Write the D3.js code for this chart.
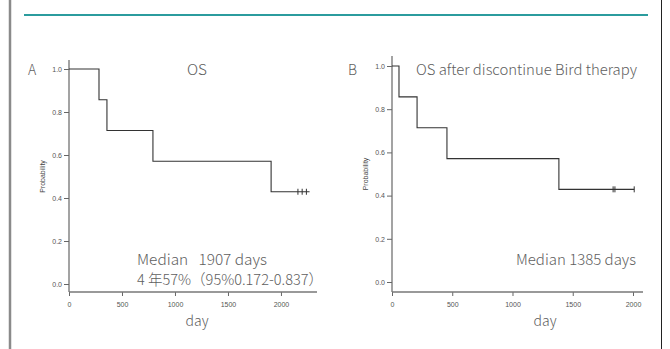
<!DOCTYPE html>
<html>
<head>
<meta charset="utf-8">
<script src="https://cdn.jsdelivr.net/npm/d3@7"></script>
<style>
  html, body { margin: 0; padding: 0; background: #fff; }
  svg { display: block; }
  .tick text { font-family: "Liberation Sans", Arial, sans-serif; font-size: 7px; fill: #555; }
  .tick line { stroke: #666; }
  .lbl { font-family: "Noto Sans CJK JP", "Noto Sans", sans-serif; font-weight: 300; fill: #606060; }
</style>
</head>
<body>
<svg id="chart" width="670" height="349"></svg>
<script>
// Kaplan-Meier data: panel A (overall survival)
const osDays      = [0, 283, 358, 792, 1907, 2270];
const osSurvival  = [1.0, 0.857, 0.714, 0.571, 0.429, 0.429];
const osCensored  = [2160, 2200, 2240];

// Panel B (overall survival after discontinuation)
const discDays     = [0, 58, 208, 456, 1385, 2010];
const discSurvival = [1.0, 0.857, 0.714, 0.571, 0.429, 0.429];
const discCensored = [1835, 1850, 2010];

const xTicks = [0, 500, 1000, 1500, 2000];
const yTicks = [0, 0.2, 0.4, 0.6, 0.8, 1.0];

const svg = d3.select("#chart");

// slide frame
svg.append("line").attr("x1", 10).attr("x2", 10).attr("y1", 0).attr("y2", 349)
  .attr("stroke", "#8a8a8a").attr("stroke-width", 2.5);
svg.append("line").attr("x1", 661.5).attr("x2", 661.5).attr("y1", 0).attr("y2", 349)
  .attr("stroke", "#222").attr("stroke-width", 1);
svg.append("line").attr("x1", 24).attr("x2", 648).attr("y1", 15).attr("y2", 15)
  .attr("stroke", "#2b9c9e").attr("stroke-width", 2);

function panel(cfg) {
  const x = d3.scaleLinear().domain(cfg.xDomain).range(cfg.xRange);
  const y = d3.scaleLinear().domain([0, 1]).range(cfg.yRange);
  const g = svg.append("g");

  // y axis
  const ya = g.append("g").attr("transform", `translate(${cfg.xRange[0]},0)`)
    .call(d3.axisLeft(y).tickValues(yTicks).tickFormat(d3.format(".1f")).tickSize(5).tickPadding(2));
  ya.select(".domain").remove();
  g.append("line").attr("x1", cfg.xRange[0]).attr("x2", cfg.xRange[0])
    .attr("y1", cfg.spineTop).attr("y2", cfg.axisY).attr("stroke", "#666").attr("stroke-width", 1.2);

  // x axis
  const xa = g.append("g").attr("transform", `translate(0,${cfg.axisY})`)
    .call(d3.axisBottom(x).tickValues(xTicks).tickFormat(d3.format("d")).tickSize(4).tickPadding(6));
  xa.select(".domain").remove();
  g.append("line").attr("x1", cfg.xRange[0]).attr("x2", cfg.xRange[1])
    .attr("y1", cfg.axisY).attr("y2", cfg.axisY).attr("stroke", "#777").attr("stroke-width", 1.5);

  // survival step curve
  const pts = cfg.days.map((d, i) => [d, cfg.surv[i]]);
  g.append("path").datum(pts)
    .attr("d", d3.line().x(d => x(d[0])).y(d => y(d[1])).curve(d3.curveStepAfter))
    .attr("fill", "none").attr("stroke", "#333").attr("stroke-width", 1.1);

  // censor marks
  const last = cfg.surv[cfg.surv.length - 1];
  g.selectAll(".cens").data(cfg.censored).join("line")
    .attr("x1", d => x(d)).attr("x2", d => x(d))
    .attr("y1", y(last) - 3).attr("y2", y(last) + 3)
    .attr("stroke", "#333").attr("stroke-width", 1);

  // axis titles
  g.append("text").attr("transform", `translate(${cfg.xRange[0] - 24},${y(0.5)}) rotate(-90)`)
    .attr("text-anchor", "middle").attr("font-family", "Liberation Sans, Arial, sans-serif")
    .attr("font-size", 7).attr("fill", "#444").text("Probability");
  g.append("text").attr("class", "lbl").attr("x", cfg.dayX).attr("y", 326)
    .attr("text-anchor", "middle").attr("font-size", 14).text("day");

  // panel letter and title
  g.append("text").attr("class", "lbl").attr("x", cfg.letterX).attr("y", 75)
    .attr("font-size", 14).text(cfg.letter);
  g.append("text").attr("class", "lbl").attr("x", cfg.titleX).attr("y", 75)
    .attr("text-anchor", cfg.titleAnchor).attr("font-size", 14)
    .attr("textLength", cfg.titleLen).attr("lengthAdjust", "spacingAndGlyphs").text(cfg.title);

  cfg.notes.forEach(n => {
    g.append("text").attr("class", "lbl").attr("x", n.x).attr("y", n.y)
      .attr("font-size", 15).attr("textLength", n.len).attr("lengthAdjust", "spacingAndGlyphs")
      .text(n.text);
  });
}

panel({
  xDomain: [0, 2340], xRange: [69, 317], yRange: [284, 69], axisY: 292, spineTop: 60,
  days: osDays, surv: osSurvival, censored: osCensored,
  letter: "A", letterX: 28, title: "OS", titleX: 197, titleAnchor: "middle", titleLen: 20,
  dayX: 197,
  notes: [
    { text: "Median\u00a0\u00a0\u00a01907 days", x: 137, y: 265, len: 130 },
    { text: "4 年57%（95%0.172-0.837）", x: 137, y: 285, len: 186 }
  ]
});

panel({
  xDomain: [0, 2083], xRange: [392, 643], yRange: [282, 66], axisY: 292, spineTop: 56,
  days: discDays, surv: discSurvival, censored: discCensored,
  letter: "B", letterX: 348, title: "OS after discontinue Bird therapy", titleX: 416,
  titleAnchor: "start", titleLen: 221,
  dayX: 545,
  notes: [
    { text: "Median 1385 days", x: 516, y: 265, len: 120 }
  ]
});
</script>
</body>
</html>
